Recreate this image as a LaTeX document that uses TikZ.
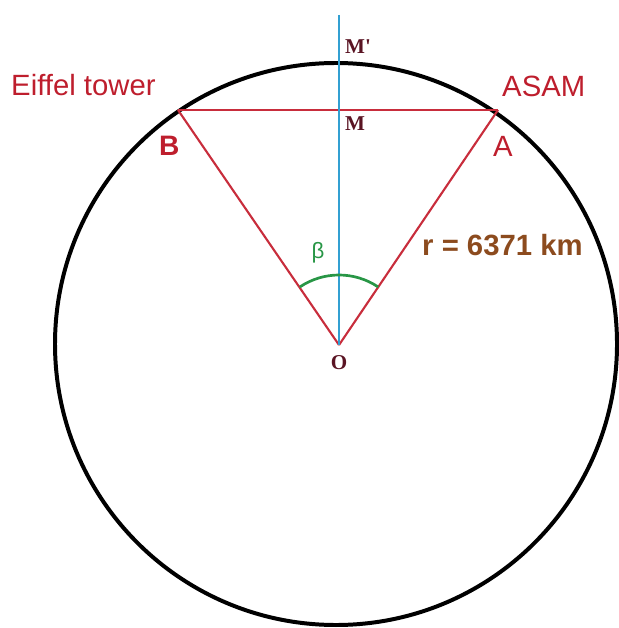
\documentclass[tikz,border=0pt]{standalone}
\usepackage{fontspec}
\setmainfont{Liberation Sans}
\newfontfamily\lblserif{Liberation Serif}
\usetikzlibrary{calc}

\definecolor{chordred}{RGB}{200,45,60}
\definecolor{labelred}{RGB}{190,30,45}
\definecolor{axisblue}{RGB}{50,160,210}
\definecolor{anglegreen}{RGB}{40,150,70}
\definecolor{radiusbrown}{RGB}{140,75,30}
\definecolor{pointmaroon}{RGB}{90,20,35}

\begin{document}
\begin{tikzpicture}[x=0.03cm,y=-0.03cm,
  redline/.style={draw=chordred,line width=1.8pt},
  placelabel/.style={text=labelred,font=\fontsize{25}{30}\selectfont,inner sep=0pt},
  vertexlabel/.style={text=labelred,font=\fontsize{25}{30}\selectfont,inner sep=0pt},
  pointlabel/.style={text=pointmaroon,font=\lblserif\bfseries\fontsize{18}{21}\selectfont,inner sep=0pt}]
  \useasboundingbox (0,0) rectangle (618,628);

  % Coordinates
  \coordinate (C) at (336,344);
  \coordinate (O) at (339,345);
  \coordinate (A) at (498,110);
  \coordinate (B) at (178,110);
  \coordinate (M) at (339,110);
  \coordinate (T) at (339,15);

  % Drawing
  \draw[line width=3.4pt] (C) circle [radius=281];
  \draw[redline] (B) -- (A);
  \draw[redline] (O) -- (A);
  \draw[redline] (O) -- (B);
  \draw[draw=axisblue,line width=2.2pt] (T) -- (O);
  \draw[draw=anglegreen,line width=2.3pt] (O) ++(-124:70) arc[start angle=-124,end angle=-56,radius=70];

  % Labels
  \node[placelabel,anchor=base west] (eiffel) at (11,96) {Eiffel tower};
  \node[placelabel,anchor=base west] (asam) at (502,97) {ASAM};
  \node[vertexlabel,font=\bfseries\fontsize{24}{28}\selectfont,anchor=base west] (labB) at (159,156) {B};
  \node[vertexlabel,anchor=base west] (labA) at (493,157) {A};
  \node[pointlabel,anchor=base west] (labMp) at (345,54) {M'};
  \node[pointlabel,anchor=base west] (labM) at (345,131) {M};
  \node[pointlabel] (labO) at (339,363) {O};
  \node[text=anglegreen,font=\fontsize{19}{22}\selectfont,inner sep=0pt] (beta) at (318,253) {β};
  \node[text=radiusbrown,font=\bfseries\fontsize{25}{30}\selectfont,inner sep=0pt,anchor=base west] (radius) at (422,255) {r = 6371 km};
\end{tikzpicture}
\end{document}
